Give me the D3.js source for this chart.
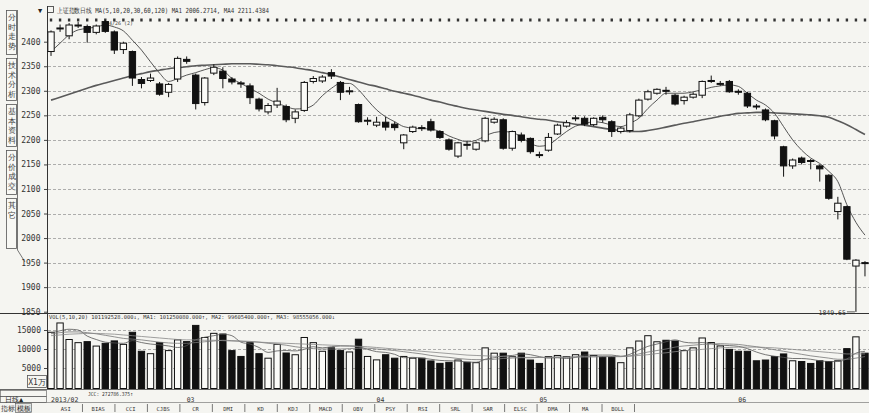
<!DOCTYPE html>
<html><head><meta charset="utf-8">
<script src="https://cdn.jsdelivr.net/npm/d3@7"></script>
<style>
body{margin:0;background:#f5f5f1}
svg{display:block}
text{font-family:"DejaVu Sans Mono","Liberation Mono",monospace;fill:#222}
</style>
</head><body><svg id="c" width="869" height="413"></svg>
<script>
// ---- data ----
const opens  = [2380,2426,2412,2433,2431,2419,2441,2420,2384,2380,2323,2321,2314,2297,2324,2364,2332,2276,2336,2340,2324,2316,2310,2283,2257,2271,2268,2244,2260,2319,2320,2337,2317,2298,2272,2238,2230,2236,2232,2194,2217,2225,2237,2217,2200,2167,2191,2181,2198,2236,2241,2183,2210,2203,2170,2179,2212,2228,2243,2244,2231,2246,2237,2217,2219,2249,2283,2295,2301,2291,2280,2287,2291,2320,2314,2319,2299,2295,2269,2261,2239,2186,2147,2163,2158,2147,2128,2054,2064,1943,1950];
const highs  = [2423,2435,2438,2440,2435,2435,2444,2423,2400,2382,2328,2335,2318,2316,2370,2370,2335,2328,2354,2348,2328,2320,2315,2286,2275,2306,2272,2262,2320,2330,2332,2344,2320,2308,2274,2246,2247,2247,2237,2212,2229,2230,2243,2220,2203,2196,2199,2197,2247,2246,2244,2219,2215,2205,2176,2214,2233,2240,2250,2248,2246,2250,2240,2227,2255,2284,2302,2305,2308,2294,2290,2297,2321,2331,2320,2322,2303,2298,2273,2264,2241,2188,2162,2166,2161,2150,2130,2084,2066,1957,1953];
const lows   = [2371,2420,2405,2428,2398,2415,2418,2375,2375,2310,2305,2318,2290,2287,2318,2355,2262,2270,2332,2305,2313,2306,2273,2258,2252,2265,2236,2234,2257,2315,2316,2324,2281,2292,2235,2230,2226,2219,2219,2181,2214,2218,2217,2202,2178,2163,2180,2178,2195,2233,2180,2178,2195,2172,2163,2176,2210,2225,2238,2228,2228,2235,2206,2213,2215,2246,2280,2292,2292,2270,2272,2284,2285,2316,2310,2296,2292,2265,2262,2238,2201,2125,2141,2150,2140,2115,2078,2038,1955,1849.65,1922];
const closes = [2420,2428,2434,2434,2419,2432,2421,2383,2397,2326,2315,2326,2293,2313,2366,2360,2274,2326,2348,2325,2318,2314,2286,2263,2270,2279,2241,2257,2317,2325,2328,2330,2297,2300,2237,2240,2236,2226,2225,2210,2226,2224,2220,2205,2181,2194,2190,2194,2244,2242,2183,2217,2199,2176,2168,2205,2230,2235,2245,2232,2244,2241,2217,2224,2251,2281,2298,2303,2300,2273,2287,2293,2319,2321,2315,2298,2298,2269,2268,2241,2208,2147,2159,2154,2157,2141,2081,2071,1957,1955,1949];
const ma5    = [2380,2397,2414,2424,2427,2430,2434,2430,2422,2403,2383,2359,2336,2319,2325,2332,2337,2343,2347,2342,2325,2315,2305,2295,2283,2275,2268,2263,2264,2271,2290,2305,2315,2315,2302,2281,2261,2247,2237,2227,2224,2223,2222,2217,2208,2201,2196,2199,2208,2215,2217,2215,2206,2193,2187,2190,2203,2217,2228,2233,2237,2235,2230,2227,2234,2244,2264,2281,2295,2295,2295,2298,2302,2307,2310,2312,2309,2295,2281,2271,2254,2227,2200,2179,2163,2152,2136,2115,2068,2032,2006];
const ma30   = [2281,2287,2293,2299,2305,2311,2316,2321,2326,2331,2335,2339,2342,2345,2347,2349,2351,2352,2353,2354,2355,2355,2355,2354,2353,2351,2349,2347,2344,2341,2337,2333,2328,2323,2318,2313,2309,2304,2299,2295,2291,2286,2281,2277,2272,2268,2264,2261,2258,2255,2252,2250,2247,2244,2242,2240,2237,2235,2232,2230,2227,2224,2221,2219,2217,2217,2219,2222,2226,2230,2234,2237,2241,2244,2248,2251,2254,2255,2256,2256,2255,2254,2253,2252,2251,2249,2246,2239,2231,2221,2211];
const volumes= [14400,16850,12500,11670,11940,10770,11490,12130,11220,14400,9400,8770,11670,9580,12400,11940,16210,13030,14120,13940,9580,8040,11670,8770,7580,11220,8950,8490,13030,11670,9400,10310,9580,9220,12580,8040,7140,8490,7580,8040,7580,7580,6860,6220,6490,7100,6500,6400,10300,8900,8900,8000,8900,7100,6200,8000,8300,8000,8500,9200,8300,8000,8000,6400,10300,12100,13500,11900,12300,12100,9600,10300,12900,11700,10800,9900,9400,9400,6900,7100,8000,8700,6900,6700,6200,6900,6700,6900,10100,13200,8900];
const vma5   = [14200,14800,15200,15000,13400,12500,11800,11600,11500,12200,11700,11300,11100,10800,10400,10900,12400,13100,13500,13900,13500,11800,11300,10400,9100,9500,9600,9500,9900,10600,10300,10600,10800,10800,10600,9900,9300,9100,8600,7700,7800,7600,7300,7000,6900,6800,6600,6500,7300,7700,8200,8300,8700,8500,8000,7600,7700,7500,7800,8400,8400,8400,8400,8100,8600,9700,10700,11300,11900,12400,11800,11600,11700,11400,11000,10900,10700,10100,9200,8500,8100,7800,7500,7500,7300,6900,6700,6700,7400,8900,9400];
const vma10  = [14000,14300,14500,14500,14300,14000,13600,13200,12800,12600,12400,12100,11800,11600,11500,11500,11700,11900,12100,12300,12200,12100,12000,11800,11500,11300,11000,10600,10300,10100,10000,10000,10000,10100,10200,10200,10000,9800,9600,9300,9000,8700,8300,8000,7800,7500,7300,7200,7200,7300,7500,7600,7700,7700,7800,7800,7900,7900,7900,8000,8000,8000,8000,8000,8200,8700,9200,9600,10000,10500,10800,11000,11200,11300,11400,11300,11200,10900,10600,10200,9800,9400,9000,8600,8200,7900,7600,7300,7300,7600,8000];
const vma20  = [13500,13700,13900,14000,14100,14100,14000,13900,13700,13500,13300,13100,12900,12700,12500,12400,12400,12300,12300,12200,12100,12000,11900,11800,11700,11600,11500,11400,11300,11200,11100,11000,10900,10800,10700,10600,10400,10200,10000,9800,9600,9400,9200,9000,8800,8600,8400,8300,8200,8100,8000,7900,7800,7800,7800,7800,7800,7800,7900,7900,7900,8000,8000,8000,8100,8300,8500,8800,9000,9300,9500,9700,9900,10100,10300,10400,10500,10500,10500,10400,10300,10100,9900,9700,9500,9300,9100,8900,8700,8700,8700];
const priceTicks = [2400,2350,2300,2250,2200,2150,2100,2050,2000,1950,1900,1850];
const volTicks   = [15000,10000,5000];
const monthLabels = ["2013/02","03","04","05","06"];
const monthIdx    = [0,15,36,54,76];
const sideTabs = ["分时走势","技术分析","基本资料","分价成交","其它"];
const indicatorTabs = ["ASI","BIAS","CCI","CJBS","CR","DMI","KD","KDJ","MACD","OBV","PSY","RSI","SRL","SAR","ELSC","DMA","MA","BOLL"];
const headerTitle = "上证指数日线 MA(5,10,20,30,60,120) MA1  2006.2714, MA4  2211.4384";
const volHeader = "VOL(5,10,20) 101192528.000↓, MA1: 101250080.000↑, MA2: 99605400.000↑, MA3: 98555056.000↓";
const jccText = "JCC: 272786.375↑";
const lowLabel = "1849.65";

// ---- drawing ----
const svg = d3.select("#c");
const n = closes.length;
const idx = d3.range(n);
const x = d3.scaleBand().domain(idx).range([46.5, 869.5]).paddingInner(0.3).paddingOuter(0.15);
const cx = i => x(i) + x.bandwidth()/2;
const y = d3.scaleLinear().domain([1850, 2400]).range([311.7, 41.7]);
const yv = d3.scaleLinear().domain([0, 15000]).range([387, 330]);
const bw = Math.max(5, x.bandwidth());

// left sidebar tabs
const tabG = svg.append("g");
const tabTops = [10, 58, 104, 150, 198];
const tabH = [44, 42, 42, 44, 50];
sideTabs.forEach((t,k)=>{
  tabG.append("rect").attr("x",6.5).attr("y",tabTops[k]+0.5).attr("width",10).attr("height",tabH[k])
    .attr("fill","#f8f8f4").attr("stroke","#555").attr("stroke-width",0.8);
  [...t].forEach((ch,j)=>{
    tabG.append("text").attr("x",11.5).attr("y",tabTops[k]+10+j*9.5).attr("text-anchor","middle")
      .attr("font-size",8).attr("font-family","Noto Sans CJK SC").style("fill","#444").text(ch);
  });
});
tabG.append("path").attr("d","M17.5,10 V250 L25,262").attr("fill","none").attr("stroke","#555").attr("stroke-width",0.8);

// price grid
svg.append("g").selectAll("line").data(priceTicks.slice(0,-1)).join("line")
  .attr("x1",48).attr("x2",869).attr("y1",d=>Math.round(y(d))+0.5).attr("y2",d=>Math.round(y(d))+0.5)
  .attr("stroke","#9a9a9a").attr("stroke-width",0.8).attr("stroke-dasharray","3,2");
// price axis
const pa = svg.append("g").attr("transform","translate(47,0)")
  .call(d3.axisLeft(y).tickValues(priceTicks).tickSize(3).tickFormat(d3.format("d")));
pa.select(".domain").remove();
pa.selectAll("line").attr("stroke","#444");
pa.selectAll("text").attr("font-size",8).attr("font-family","Liberation Mono").style("fill","#333").attr("dx",-0.5);

// volume grid & axis
svg.append("g").selectAll("line").data(volTicks).join("line")
  .attr("x1",48).attr("x2",869).attr("y1",d=>Math.round(yv(d))+0.5).attr("y2",d=>Math.round(yv(d))+0.5)
  .attr("stroke","#9a9a9a").attr("stroke-width",0.8).attr("stroke-dasharray","3,2");
const va = svg.append("g").attr("transform","translate(47,0)")
  .call(d3.axisLeft(yv).tickValues(volTicks).tickSize(3).tickFormat(d3.format("d")));
va.select(".domain").remove();
va.selectAll("line").attr("stroke","#444");
va.selectAll("text").attr("font-size",8).attr("font-family","Liberation Mono").style("fill","#333");

// frame lines
svg.append("line").attr("x1",47.5).attr("x2",47.5).attr("y1",6).attr("y2",389).attr("stroke","#333");
svg.append("line").attr("x1",0).attr("x2",869).attr("y1",313.5).attr("y2",313.5).attr("stroke","#333");
svg.append("line").attr("x1",0).attr("x2",869).attr("y1",389.5).attr("y2",389.5).attr("stroke","#444").attr("stroke-width",0.8);
svg.append("line").attr("x1",0).attr("x2",869).attr("y1",402.5).attr("y2",402.5).attr("stroke","#666").attr("stroke-width",0.6);

// x1万 box
svg.append("rect").attr("x",27.5).attr("y",375.5).attr("width",19).attr("height",12).attr("fill","none").attr("stroke","#555").attr("stroke-width",0.8);
svg.append("text").attr("x",37).attr("y",385).attr("text-anchor","middle").attr("font-size",8).attr("font-family","Noto Sans CJK SC").style("fill","#333").text("X1万");

// header
svg.append("text").attr("x",38).attr("y",13).attr("font-size",7).text("▼");
svg.append("rect").attr("x",47.5).attr("y",6.5).attr("width",6).attr("height",6).attr("fill","none").attr("stroke","#333").attr("stroke-width",0.8);
svg.append("text").attr("x",57).attr("y",13).attr("font-size",7).attr("textLength",212).attr("lengthAdjust","spacingAndGlyphs")
  .attr("font-family","Noto Sans CJK SC").style("fill","#333").text(headerTitle);
// info markers row
svg.append("g").selectAll("rect").data(idx).join("rect")
  .attr("x",i=>cx(i)-1.2).attr("y",18.5).attr("width",2.4).attr("height",3).attr("fill","#333");
svg.append("text").attr("x",103).attr("y",24.5).attr("font-size",5).attr("textLength",30).attr("lengthAdjust","spacingAndGlyphs").style("fill","#444").text("‡#4/26 (2)");

// MA30 (thick) and MA5 (thin)
const line = arr => d3.line().x((d,i)=>cx(i)).y(d=>y(d)).curve(d3.curveMonotoneX)(arr);
svg.append("path").attr("d",line(ma30)).attr("fill","none").attr("stroke","#5a5a5a").attr("stroke-width",1.6);
svg.append("path").attr("d",line(ma5)).attr("fill","none").attr("stroke","#444").attr("stroke-width",0.9);

// candles
const cg = svg.append("g");
idx.forEach(i=>{
  const up = closes[i] >= opens[i];
  const X = cx(i);
  cg.append("line").attr("x1",X).attr("x2",X).attr("y1",y(highs[i])).attr("y2",y(lows[i])).attr("stroke","#111").attr("stroke-width",1);
  const top = y(Math.max(opens[i],closes[i])), bot = y(Math.min(opens[i],closes[i]));
  const h = Math.max(1, bot-top);
  cg.append("rect").attr("x",X-bw/2).attr("y",top).attr("width",bw).attr("height",h)
    .attr("fill", up ? "#fbfbf8" : "#111").attr("stroke","#111").attr("stroke-width",1);
});

// low label
const li = lows.indexOf(d3.min(lows));
svg.append("text").attr("x",cx(li)-10).attr("y",315).attr("text-anchor","end").attr("font-size",6.5).style("fill","#333").text(lowLabel);
svg.append("line").attr("x1",cx(li)-9).attr("x2",cx(li)-1).attr("y1",y(lows[li])).attr("y2",y(lows[li])).attr("stroke","#333").attr("stroke-width",0.8);

// volume bars
const vg = svg.append("g");
idx.forEach(i=>{
  const up = closes[i] >= opens[i];
  vg.append("rect").attr("x",cx(i)-bw/2).attr("y",yv(volumes[i])).attr("width",bw).attr("height",yv(0)-yv(volumes[i])+1.5)
    .attr("fill", up ? "#fbfbf8" : "#111").attr("stroke","#111").attr("stroke-width",1);
});
const vline = arr => d3.line().x((d,i)=>cx(i)).y(d=>yv(d)).curve(d3.curveMonotoneX)(arr);
[[vma5,"#555"],[vma10,"#777"],[vma20,"#888"]].forEach(([a,c])=>{
  svg.append("path").attr("d",vline(a)).attr("fill","none").attr("stroke",c).attr("stroke-width",0.8);
});
svg.append("text").attr("x",49).attr("y",319).attr("font-size",5.5).attr("textLength",286).attr("lengthAdjust","spacingAndGlyphs").style("fill","#333").text(volHeader);

// bottom rows
svg.append("rect").attr("x",0.5).attr("y",390.5).attr("width",46).attr("height",6).attr("fill","none").attr("stroke","#555").attr("stroke-width",0.6);
svg.append("text").attr("x",88).attr("y",395.5).attr("font-size",5.5).attr("textLength",45).attr("lengthAdjust","spacingAndGlyphs").style("fill","#333").text(jccText);
svg.append("rect").attr("x",0.5).attr("y",396.5).attr("width",46).attr("height",6).attr("fill","none").attr("stroke","#555").attr("stroke-width",0.6);
svg.append("text").attr("x",5).attr("y",402).attr("font-size",7).attr("font-family","Noto Sans CJK SC").style("fill","#222").text("日线▲");
monthLabels.forEach((m,k)=>{
  svg.append("text").attr("x",cx(monthIdx[k])).attr("y",401.5).attr("font-size",6.5).style("fill","#333").text(m);
});
// tab row
svg.append("text").attr("x",1).attr("y",411).attr("font-size",6.5).attr("font-family","Noto Sans CJK SC").style("fill","#333").text("指标");
svg.append("rect").attr("x",15.5).attr("y",403.5).attr("width",16).attr("height",9).attr("fill","#e4e4e0").attr("stroke","#555").attr("stroke-width",0.6);
svg.append("text").attr("x",16.5).attr("y",411).attr("font-size",6.5).attr("font-family","Noto Sans CJK SC").style("fill","#222").text("模板");
const tabX = d3.scaleBand().domain(indicatorTabs).range([49.5, 634]);
indicatorTabs.forEach(t=>{
  svg.append("text").attr("x",tabX(t)+tabX.bandwidth()/2).attr("y",410.5).attr("text-anchor","middle").attr("font-size",5.5).style("fill","#333").text(t);
  svg.append("line").attr("x1",tabX(t)+tabX.bandwidth()+0.5).attr("x2",tabX(t)+tabX.bandwidth()+0.5).attr("y1",404).attr("y2",412).attr("stroke","#444").attr("stroke-width",0.7);
});
</script></body></html>
